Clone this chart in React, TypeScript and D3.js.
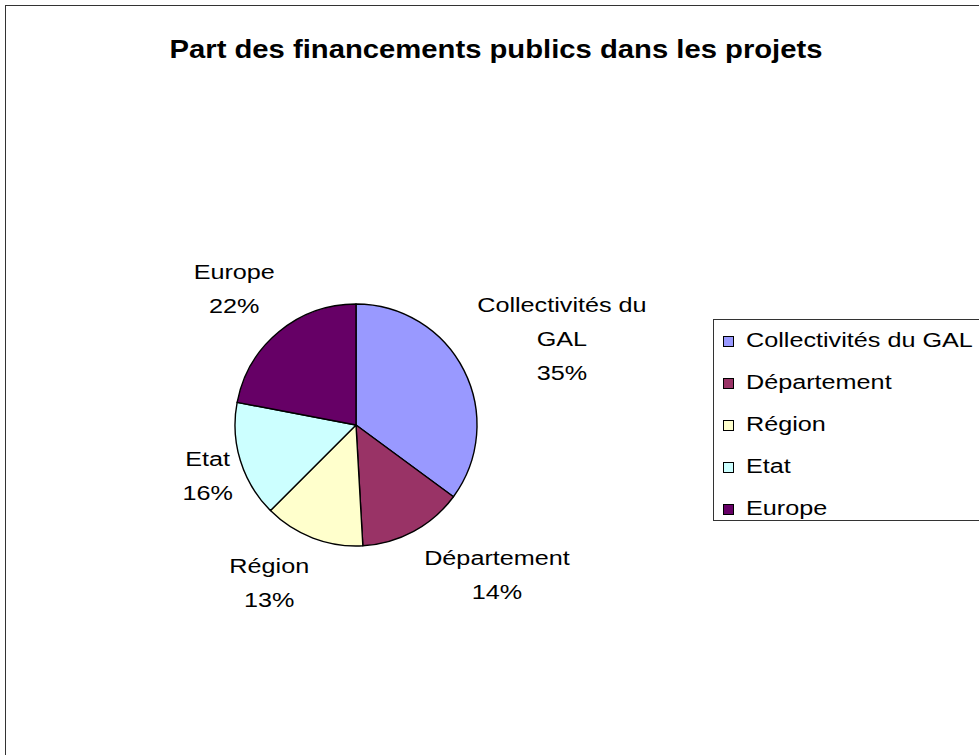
import React, { useEffect } from "react";
import * as d3 from "d3";

// Data
const categories = ["Collectivités du GAL", "Département", "Région", "Etat", "Europe"];
const values = [35.1, 14.0, 13.4, 15.5, 22.0];
const colors = ["#9999FF", "#993366", "#FFFFCC", "#CCFFFF", "#660066"];
// how the data labels wrap on the chart
const labelLines = [["Collectivités du", "GAL"], ["Département"], ["Région"], ["Etat"], ["Europe"]];
// small extra shifts Excel applied to the best-fit labels
const labelShift: [number, number][] = [[-18, -3], [38, 0], [-22, -2], [12, 0], [-6, -6]];

const W = 979;
const H = 755;
const cx = 356;
const cy = 425;
const R = 121;
const font = "'Liberation Sans', Arial, Helvetica, sans-serif";
const SX = 1.2; // text in the source is horizontally stretched
const labelSize = 21;
const lineH = 34;

export default function App() {
  useEffect(() => {
    document.body.style.margin = "0";
  }, []);

  const total = d3.sum(values);
  const pie = d3
    .pie<number>()
    .sort(null)
    .value((d) => d)
    .startAngle(0)
    .endAngle(2 * Math.PI);
  const arcs = pie(values);
  const arc = d3.arc<d3.PieArcDatum<number>>().innerRadius(0).outerRadius(R);

  // rough text width for Arial-like font
  const measure = (s: string) => s.length * labelSize * 0.55 * SX;

  return (
    <svg width={W} height={H} style={{ display: "block", background: "#fff" }} fontFamily={font}>
      <rect x={0} y={0} width={W} height={H} fill="#fff" />
      <rect x={5.5} y={5.5} width={1100} height={1100} fill="none" stroke="#333" strokeWidth={1} />

      <g transform={`translate(496,58) scale(1.17,1)`}>
        <text textAnchor="middle" fontWeight="bold" fontSize={25} fill="#000">
          Part des financements publics dans les projets
        </text>
      </g>

      <g transform={`translate(${cx},${cy})`}>
        {arcs.map((a, i) => (
          <path key={i} d={arc(a) ?? ""} fill={colors[i]} stroke="#000" strokeWidth={1.4} strokeLinejoin="round" />
        ))}
      </g>

      {arcs.map((a, i) => {
        const mid = (a.startAngle + a.endAngle) / 2;
        const sx = Math.sin(mid);
        const sy = -Math.cos(mid);
        const lines = [...labelLines[i], `${Math.round((values[i] / total) * 100)}%`];
        const halfW = d3.max(lines, measure)! / 2;
        const halfH = (lines.length * lineH) / 2 - 4;
        const ax = cx + sx * 140;
        const ay = cy + sy * 140;
        const lx = ax + sx * halfW + labelShift[i][0];
        const ly = ay + sy * halfH + labelShift[i][1];
        const first = ly - ((lines.length - 1) * lineH) / 2 + 8;
        return (
          <g key={i} transform={`translate(${lx},0)`}>
            {lines.map((t, j) => (
              <g key={j} transform={`translate(0,${first + j * lineH}) scale(${SX},1)`}>
                <text textAnchor="middle" fontSize={labelSize} fill="#000">
                  {t}
                </text>
              </g>
            ))}
          </g>
        );
      })}

      {/* Legend */}
      <rect x={713.5} y={319.5} width={400} height={201} fill="#fff" stroke="#333" strokeWidth={1} />
      {categories.map((c, i) => {
        const y = 347 + i * 42;
        return (
          <g key={c}>
            <rect x={723.5} y={y - 10.5} width={10} height={10} fill={colors[i]} stroke="#000" strokeWidth={1} />
            <g transform={`translate(746,${y}) scale(${SX},1)`}>
              <text fontSize={labelSize} fill="#000">
                {c}
              </text>
            </g>
          </g>
        );
      })}
    </svg>
  );
}
